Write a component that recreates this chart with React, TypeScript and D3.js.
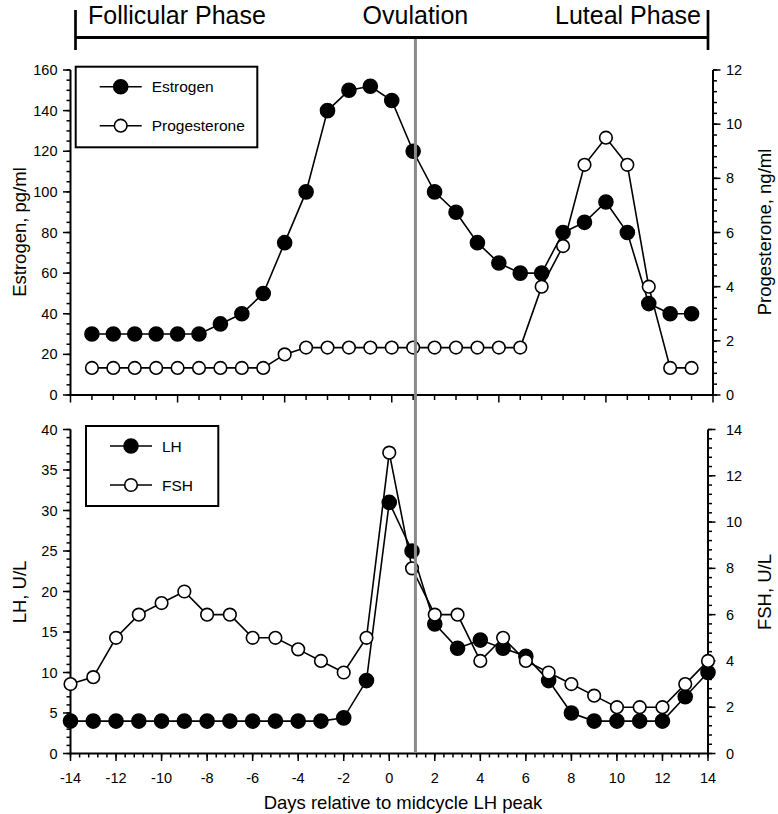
import React from "react";
import * as d3 from "d3";

// ---- data ----
const days = d3.range(-14, 15); // -14..14
const estrogen = [30, 30, 30, 30, 30, 30, 35, 40, 50, 75, 100, 140, 150, 152, 145, 120, 100, 90, 75, 65, 60, 60, 80, 85, 95, 80, 45, 40, 40];
const progesterone = [1, 1, 1, 1, 1, 1, 1, 1, 1, 1.5, 1.75, 1.75, 1.75, 1.75, 1.75, 1.75, 1.75, 1.75, 1.75, 1.75, 1.75, 4, 5.5, 8.5, 9.5, 8.5, 4, 1, 1];
const lh = [4, 4, 4, 4, 4, 4, 4, 4, 4, 4, 4, 4, 4.4, 9, 31, 25, 16, 13, 14, 13, 12, 9, 5, 4, 4, 4, 4, 7, 10];
const fsh = [3, 3.3, 5, 6, 6.5, 7, 6, 6, 5, 5, 4.5, 4, 3.5, 5, 13, 8, 6, 6, 4, 5, 4, 3.5, 3, 2.5, 2, 2, 2, 3, 4];
const estrogenTicks = [0, 20, 40, 60, 80, 100, 120, 140, 160];
const progTicks = [0, 2, 4, 6, 8, 10, 12];
const lhTicks = [0, 5, 10, 15, 20, 25, 30, 35, 40];
const fshTicks = [0, 2, 4, 6, 8, 10, 12, 14];
const dayTicks = [-14, -12, -10, -8, -6, -4, -2, 0, 2, 4, 6, 8, 10, 12, 14];
const phaseLabels = ["Follicular Phase", "Ovulation", "Luteal Phase"];
const ovulationDay = 1.15;

const FONT = "'Liberation Sans', Arial, Helvetica, sans-serif";

export default function App() {
  // top panel scales (x slots -15..15, points at -14..14)
  const xTop = d3.scaleLinear().domain([-15, 15]).range([70.5, 713]);
  const yTopL = d3.scaleLinear().domain([0, 160]).range([395, 70]);
  const yTopR = d3.scaleLinear().domain([0, 12]).range([395, 70]);
  // bottom panel
  const xBot = d3.scaleLinear().domain([-14, 14]).range([70.5, 708]);
  const yBotL = d3.scaleLinear().domain([0, 40]).range([753.5, 429.5]);
  const yBotR = d3.scaleLinear().domain([0, 14]).range([753.5, 429.5]);

  const lineTop = (vals: number[], y: d3.ScaleLinear<number, number>) =>
    d3.line<number>().x((_, i) => xTop(days[i])).y((v) => y(v))(vals) || "";
  const lineBot = (vals: number[], y: d3.ScaleLinear<number, number>) =>
    d3.line<number>().x((_, i) => xBot(days[i])).y((v) => y(v))(vals) || "";

  const MAJ = 7.5;
  const MIN = 4;

  const leftAxis = (scale: d3.ScaleLinear<number, number>, x: number, majors: number[], minorStep: number, max: number) => {
    const minors = d3.range(0, Math.round(max / minorStep) + 1).map((i) => i * minorStep);
    const [y0, y1] = scale.range();
    return (
      <g>
        <line x1={x} x2={x} y1={y0 + 1} y2={y1} stroke="#000" strokeWidth={2} />
        {minors.map((m, i) => (
          <line key={"m" + i} x1={x - MIN} x2={x} y1={scale(m)} y2={scale(m)} stroke="#000" strokeWidth={1.5} />
        ))}
        {majors.map((t) => (
          <g key={t}>
            <line x1={x - MAJ} x2={x} y1={scale(t)} y2={scale(t)} stroke="#000" strokeWidth={1.5} />
            <text x={x - 13} y={scale(t) + 5} textAnchor="end" fontSize={14.5} fontFamily={FONT}>{t}</text>
          </g>
        ))}
      </g>
    );
  };

  const rightAxis = (scale: d3.ScaleLinear<number, number>, x: number, majors: number[], minorStep: number, max: number) => {
    const minors = d3.range(0, Math.round(max / minorStep) + 1).map((i) => i * minorStep);
    const [y0, y1] = scale.range();
    return (
      <g>
        <line x1={x} x2={x} y1={y0 + 1} y2={y1} stroke="#000" strokeWidth={2} />
        {minors.map((m, i) => (
          <line key={"m" + i} x1={x} x2={x + MIN} y1={scale(m)} y2={scale(m)} stroke="#000" strokeWidth={1.5} />
        ))}
        {majors.map((t) => (
          <g key={t}>
            <line x1={x} x2={x + MAJ} y1={scale(t)} y2={scale(t)} stroke="#000" strokeWidth={1.5} />
            <text x={726} y={scale(t) + 5} textAnchor="start" fontSize={14.5} fontFamily={FONT}>{t}</text>
          </g>
        ))}
      </g>
    );
  };

  const topSlots = d3.range(-15, 16);
  const botMinors = d3.range(0, 71).map((i) => -14 + i * 0.4);

  const markers = (vals: number[], xs: d3.ScaleLinear<number, number>, y: d3.ScaleLinear<number, number>, filled: boolean, key: string) =>
    vals.map((v, i) => (
      <circle key={key + i} cx={xs(days[i])} cy={y(v)} r={filled ? 7 : 6.3} fill={filled ? "#000" : "#fff"} stroke="#000" strokeWidth={1.6} />
    ));

  const legend = (x: number, y: number, w: number, h: number, items: string[]) => (
    <g>
      <rect x={x} y={y} width={w} height={h} fill="#fff" stroke="#000" strokeWidth={2} />
      {items.map((name, i) => {
        const cy = y + 20 + i * 39;
        return (
          <g key={name}>
            <line x1={x + 24} x2={x + 66} y1={cy} y2={cy} stroke="#000" strokeWidth={1.6} />
            <circle cx={x + 45} cy={cy} r={i === 0 ? 7 : 6.3} fill={i === 0 ? "#000" : "#fff"} stroke="#000" strokeWidth={1.6} />
            <text x={x + 76} y={cy + 5.5} fontSize={15.5} fontFamily={FONT}>{name}</text>
          </g>
        );
      })}
    </g>
  );

  const gx = xBot(ovulationDay);

  return (
    <svg width={778} height={814} style={{ position: "absolute", left: 0, top: 0, background: "#fff" }}>
      <rect x={0} y={0} width={778} height={814} fill="#fff" />
      {/* header bracket */}
      <line x1={75.5} x2={708} y1={37.5} y2={37.5} stroke="#000" strokeWidth={3} />
      <line x1={75.5} x2={75.5} y1={10} y2={50} stroke="#000" strokeWidth={2.7} />
      <line x1={708} x2={708} y1={10} y2={50} stroke="#000" strokeWidth={2.7} />
      <text x={88} y={24} fontSize={25} fontFamily={FONT}>{phaseLabels[0]}</text>
      <text x={gx} y={24} fontSize={25} fontFamily={FONT} textAnchor="middle">{phaseLabels[1]}</text>
      <text x={701} y={24} fontSize={25} fontFamily={FONT} textAnchor="end">{phaseLabels[2]}</text>

      {/* top panel axes */}
      {leftAxis(yTopL, 70.5, estrogenTicks, 5, 160)}
      {rightAxis(yTopR, 713, progTicks, 0.4, 12)}
      <line x1={70.5} x2={713} y1={395} y2={395} stroke="#000" strokeWidth={2} />
      {topSlots.map((s) => (
        <line key={"ts" + s} x1={xTop(s)} x2={xTop(s)} y1={395} y2={395 + ((s + 15) % 5 === 0 ? MAJ : MIN + 1)} stroke="#000" strokeWidth={1.5} />
      ))}

      {/* bottom panel axes */}
      {leftAxis(yBotL, 70.5, lhTicks, 1, 40)}
      {rightAxis(yBotR, 708, fshTicks, 0.4, 14)}
      <line x1={70.5} x2={708} y1={753.5} y2={753.5} stroke="#000" strokeWidth={2} />
      {botMinors.map((m, i) => (
        <line key={"bm" + i} x1={xBot(m)} x2={xBot(m)} y1={753.5} y2={753.5 + MIN} stroke="#000" strokeWidth={1.5} />
      ))}
      {dayTicks.map((t) => (
        <g key={"dt" + t}>
          <line x1={xBot(t)} x2={xBot(t)} y1={753.5} y2={753.5 + MAJ} stroke="#000" strokeWidth={1.5} />
          <text x={xBot(t)} y={783} textAnchor="middle" fontSize={14.5} fontFamily={FONT}>{t}</text>
        </g>
      ))}

      {/* axis titles */}
      <text transform={`translate(26,232) rotate(-90)`} textAnchor="middle" fontSize={18.5} fontFamily={FONT}>Estrogen, pg/ml</text>
      <text transform={`translate(771,232) rotate(-90)`} textAnchor="middle" fontSize={18.5} fontFamily={FONT}>Progesterone, ng/ml</text>
      <text transform={`translate(26,592) rotate(-90)`} textAnchor="middle" fontSize={18.5} fontFamily={FONT}>LH, U/L</text>
      <text transform={`translate(771,592) rotate(-90)`} textAnchor="middle" fontSize={18.5} fontFamily={FONT}>FSH, U/L</text>
      <text x={403} y={809} textAnchor="middle" fontSize={18.5} fontFamily={FONT}>Days relative to midcycle LH peak</text>

      {/* top panel data */}
      <path d={lineTop(progesterone, yTopR)} fill="none" stroke="#000" strokeWidth={1.6} />
      <path d={lineTop(estrogen, yTopL)} fill="none" stroke="#000" strokeWidth={1.6} />
      {markers(progesterone, xTop, yTopR, false, "p")}
      {markers(estrogen, xTop, yTopL, true, "e")}

      {/* bottom panel data */}
      <path d={lineBot(lh, yBotL)} fill="none" stroke="#000" strokeWidth={1.6} />
      <path d={lineBot(fsh, yBotR)} fill="none" stroke="#000" strokeWidth={1.6} />
      {markers(lh, xBot, yBotL, true, "l")}
      {markers(fsh, xBot, yBotR, false, "f")}

      {/* legends */}
      {legend(75.7, 66.7, 181.6, 80.6, ["Estrogen", "Progesterone"])}
      {legend(86, 426, 132.3, 80, ["LH", "FSH"])}

      {/* ovulation line */}
      <line x1={gx} x2={gx} y1={39} y2={753} stroke="#8a8a8a" strokeWidth={3} />
    </svg>
  );
}
